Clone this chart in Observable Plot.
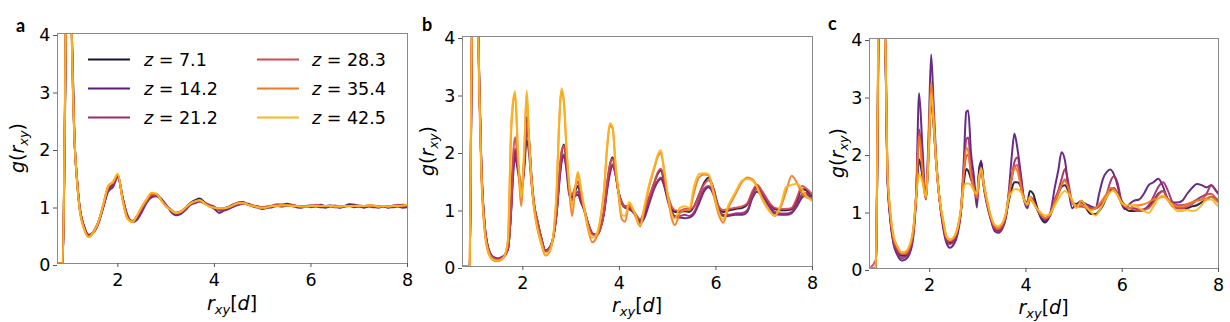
<!DOCTYPE html>
<html>
<head>
<meta charset="utf-8">
<script src="https://cdn.jsdelivr.net/npm/d3@7"></script>
<script src="https://cdn.jsdelivr.net/npm/@observablehq/plot@0.6"></script>
<style>
html,body{margin:0;padding:0;background:#fff;}
#chart{position:relative;width:1230px;height:322px;overflow:hidden;background:#fff;}
#chart svg{position:absolute;top:0;overflow:visible;}
</style>
</head>
<body>
<div id="chart"></div>
<script>
// ---- series labels, colours, ticks ----
const zLabels = ["7.1", "14.2", "21.2", "28.3", "35.4", "42.5"];
const zColors = ["#1c1237", "#5b1a7d", "#9c2a6c", "#d24a50", "#f47a22", "#fbb61a"];
const xTicks = [2, 4, 6, 8];
const yTicks = [0, 1, 2, 3, 4];
const panelLetters = ["a", "b", "c"];

// ---- panel a ----
const rA = [0.75,0.86,0.9,0.95,1.0,1.05,1.1,1.15,1.2,
 1.3,1.4,1.5,1.6,1.7,1.8,1.9,2.0,2.1,2.2,
 2.3,2.4,2.5,2.6,2.7,2.8,2.9,3.0,3.1,3.2,
 3.3,3.4,3.5,3.6,3.7,3.8,3.9,4.0,4.1,4.2,
 4.3,4.4,4.5,4.6,4.7,4.8,4.9,5.0,5.1,5.2,
 5.3,5.4,5.5,5.6,5.7,5.8,5.9,6.0,6.1,6.2,
 6.3,6.4,6.5,6.6,6.7,6.8,6.9,7.0,7.1,7.2,
 7.3,7.4,7.5,7.6,7.7,7.8,7.9,8.0];
const a71 = [0,0,2.3,5.9,6.8,3.9,2.2,1.5,1.03,
 0.63,0.49,0.56,0.73,1.0,1.3,1.38,1.53,1.13,0.8,
 0.74,0.8,0.96,1.1,1.21,1.2,1.12,1.0,0.93,0.88,
 0.9,0.97,1.05,1.1,1.13,1.06,1.0,0.97,0.95,0.96,
 0.99,1.03,1.06,1.07,1.02,1.0,0.99,0.97,0.98,1.0,
 1.02,1.02,1.04,1.02,1.0,0.99,1.0,1.01,1.0,1.02,
 1.0,1.01,0.99,0.98,1.0,1.03,1.02,1.0,0.99,1.0,
 1.0,0.99,1.0,0.98,1.0,1.01,1.02,1.01];
const a142 = [0,0,2.2,5.8,6.7,3.9,2.2,1.52,1.05,
 0.65,0.5,0.54,0.7,0.98,1.25,1.33,1.5,1.15,0.84,
 0.72,0.76,0.9,1.06,1.15,1.17,1.12,1.02,0.9,0.84,
 0.86,0.93,1.02,1.05,1.08,1.04,1.0,0.95,0.88,0.92,
 0.95,0.99,1.02,1.04,1.03,0.99,0.97,0.95,0.97,0.98,
 1.0,0.99,1.01,1.0,0.98,0.97,0.99,0.98,0.99,0.98,
 0.97,0.99,0.98,0.97,0.99,1.0,0.98,0.99,0.97,0.99,
 0.98,0.97,0.99,0.97,0.98,0.99,0.97,0.98];
const a212 = [0,0,2.3,5.9,6.8,3.8,2.2,1.5,1.04,
 0.64,0.49,0.55,0.71,1.0,1.28,1.36,1.52,1.14,0.82,
 0.73,0.78,0.93,1.08,1.17,1.18,1.12,1.01,0.92,0.86,
 0.88,0.94,1.03,1.07,1.09,1.06,1.02,0.99,0.92,0.94,
 0.97,1.01,1.04,1.05,1.04,1.01,0.99,0.98,0.99,1.0,
 1.01,1.02,1.01,1.02,1.0,0.99,1.0,0.99,1.0,1.01,
 0.99,1.0,0.99,0.98,1.0,1.01,1.0,0.99,0.99,1.01,
 1.0,0.99,1.0,0.98,1.01,1.0,0.99,1.0];
const a283 = [0,0,2.4,6.0,6.8,3.8,2.2,1.5,1.02,
 0.62,0.48,0.56,0.73,1.02,1.33,1.4,1.55,1.12,0.8,
 0.73,0.82,0.97,1.1,1.2,1.2,1.1,1.0,0.94,0.88,
 0.9,0.96,1.04,1.08,1.1,1.05,1.0,0.97,0.95,0.96,
 0.98,1.02,1.05,1.05,1.02,1.01,0.98,0.98,0.99,1.01,
 1.03,1.02,1.01,1.01,1.0,1.0,0.99,1.0,1.02,1.01,
 1.0,1.0,1.01,0.99,1.0,1.0,1.01,1.01,1.0,1.01,
 1.01,0.99,1.0,1.0,1.0,1.02,1.0,1.01];
const a354 = [0,0,2.5,6.1,6.8,3.8,2.2,1.48,1.0,
 0.6,0.46,0.55,0.73,1.03,1.35,1.42,1.55,1.1,0.78,
 0.73,0.84,0.99,1.12,1.22,1.21,1.1,0.99,0.93,0.88,
 0.9,0.97,1.05,1.08,1.1,1.04,0.99,0.97,0.96,0.96,
 0.98,1.02,1.05,1.06,1.02,1.0,0.98,0.97,0.98,1.0,
 1.01,1.02,1.02,1.01,1.0,0.99,0.99,1.0,1.01,1.0,
 1.0,1.0,0.99,0.99,1.0,1.0,1.0,1.0,1.0,1.01,
 1.0,0.99,1.0,0.99,1.0,1.0,1.01,1.02];
const a425 = [0,0,2.5,6.1,6.8,3.8,2.2,1.48,1.0,
 0.6,0.46,0.55,0.73,1.03,1.34,1.42,1.56,1.1,0.78,
 0.72,0.84,0.99,1.12,1.23,1.21,1.1,0.99,0.93,0.88,
 0.9,0.97,1.04,1.08,1.1,1.04,0.99,0.97,0.96,0.96,
 0.98,1.02,1.05,1.05,1.02,1.0,0.98,0.97,0.98,1.0,
 1.0,1.01,1.01,1.0,1.0,0.99,0.99,1.0,1.0,1.0,
 1.0,1.0,0.99,0.99,1.0,1.0,1.0,1.0,1.0,1.01,
 1.01,0.99,1.0,0.99,1.0,1.0,1.01,1.02];

// ---- panel b ----
const rB = [0.75,0.9,0.93,0.97,1.02,1.07,1.1,1.14,1.21,1.27,
 1.37,1.48,1.6,1.69,1.76,1.8,1.84,1.9,1.97,2.03,
 2.08,2.13,2.18,2.24,2.3,2.38,2.47,2.56,2.64,2.7,
 2.75,2.8,2.85,2.9,2.96,3.02,3.08,3.14,3.2,3.27,
 3.35,3.44,3.52,3.6,3.68,3.75,3.8,3.86,3.92,3.98,
 4.05,4.12,4.2,4.3,4.43,4.52,4.62,4.72,4.8,4.86,
 4.92,5.0,5.08,5.15,5.25,5.35,5.45,5.55,5.65,5.75,
 5.85,5.95,6.05,6.15,6.25,6.4,6.55,6.65,6.75,6.85,
 6.95,7.1,7.22,7.35,7.45,7.57,7.68,7.78,7.88,8.0];
const b71 = [0,0,2.6,5.9,7.0,4.4,3.1,1.75,0.7,0.35,
 0.17,0.13,0.17,0.3,1.05,1.8,2.0,1.75,1.35,1.8,
 2.6,2.2,1.55,1.05,0.8,0.5,0.27,0.33,0.55,0.95,
 1.5,1.95,2.12,1.85,1.35,1.2,1.3,1.4,1.2,1.0,
 0.75,0.57,0.55,0.65,0.95,1.45,1.75,1.9,1.65,1.3,
 1.12,1.05,1.05,0.95,0.8,0.95,1.2,1.45,1.62,1.68,
 1.5,1.22,1.0,0.95,0.95,0.96,0.95,1.05,1.25,1.45,
 1.55,1.35,1.05,0.95,0.97,1.0,1.02,1.08,1.28,1.4,
 1.3,1.1,1.0,0.98,0.98,1.0,1.15,1.35,1.32,1.2];
const b142 = [0,0,2.6,5.9,7.0,4.4,3.1,1.78,0.72,0.37,
 0.18,0.14,0.18,0.3,1.0,1.6,1.9,1.65,1.3,1.7,
 2.2,1.95,1.45,1.0,0.78,0.5,0.28,0.34,0.55,0.92,
 1.4,1.8,1.92,1.7,1.25,1.15,1.22,1.25,1.12,0.98,
 0.75,0.58,0.55,0.65,0.92,1.35,1.6,1.75,1.6,1.3,
 1.1,1.02,1.0,0.93,0.75,0.85,1.1,1.35,1.48,1.52,
 1.42,1.15,0.95,0.86,0.85,0.84,0.85,0.92,1.1,1.3,
 1.38,1.25,1.0,0.88,0.88,0.9,0.9,0.95,1.18,1.3,
 1.25,1.05,0.92,0.9,0.9,0.93,1.05,1.2,1.25,1.15];
const b212 = [0,0,2.6,5.9,7.0,4.4,3.1,1.77,0.71,0.36,
 0.17,0.13,0.17,0.3,1.02,1.7,2.05,1.7,1.35,1.8,
 2.4,2.1,1.5,1.02,0.79,0.5,0.27,0.33,0.55,0.93,
 1.45,1.85,1.95,1.75,1.3,1.18,1.25,1.3,1.15,0.99,
 0.75,0.57,0.55,0.65,0.93,1.4,1.65,1.78,1.6,1.3,
 1.1,1.03,1.0,0.94,0.78,0.9,1.15,1.38,1.5,1.55,
 1.45,1.2,0.97,0.88,0.88,0.9,0.88,0.95,1.15,1.35,
 1.4,1.28,1.0,0.9,0.9,0.92,0.93,0.98,1.2,1.35,
 1.28,1.08,0.95,0.92,0.92,0.95,1.1,1.25,1.28,1.18];
const b283 = [0,0,2.7,6.0,7.0,4.4,3.1,1.74,0.69,0.34,
 0.16,0.12,0.16,0.32,1.1,1.95,2.25,1.8,1.35,1.9,
 2.5,2.15,1.55,1.05,0.8,0.5,0.26,0.32,0.55,0.96,
 1.52,2.0,2.1,1.85,1.4,1.25,1.38,1.48,1.25,1.02,
 0.75,0.56,0.53,0.64,0.96,1.5,1.75,1.88,1.62,1.3,
 1.12,1.05,1.05,0.96,0.82,0.98,1.22,1.45,1.65,1.7,
 1.55,1.25,1.05,0.98,0.97,1.0,1.0,1.05,1.25,1.42,
 1.5,1.35,1.05,0.98,1.0,1.02,1.05,1.1,1.3,1.42,
 1.32,1.12,1.02,1.0,1.0,1.02,1.2,1.4,1.35,1.25];
const b354 = [0,0,3.2,6.3,7.0,4.2,2.9,1.6,0.6,0.28,
 0.12,0.09,0.15,0.45,2.4,2.85,3.0,1.9,1.05,2.0,
 3.0,2.15,1.45,0.95,0.66,0.4,0.19,0.27,0.6,1.3,
 2.45,3.05,2.85,2.1,1.35,0.88,1.3,1.62,1.35,1.0,
 0.65,0.42,0.5,0.78,1.3,2.1,2.45,2.4,1.75,1.25,
 0.82,0.78,1.08,0.95,0.7,1.0,1.4,1.7,1.92,1.98,
 1.7,1.22,0.85,0.72,0.92,0.98,0.98,1.3,1.55,1.6,
 1.58,1.25,0.92,0.76,1.0,1.25,1.48,1.55,1.52,1.4,
 1.2,0.98,0.88,1.05,1.3,1.58,1.45,1.28,1.2,1.18];
const b425 = [0,0,3.0,6.2,7.0,4.3,3.0,1.67,0.63,0.3,
 0.13,0.1,0.16,0.45,2.5,2.9,3.05,2.0,1.2,2.1,
 3.06,2.2,1.5,0.97,0.68,0.42,0.2,0.28,0.62,1.32,
 2.48,3.1,2.9,2.14,1.44,1.05,1.35,1.65,1.38,1.03,
 0.68,0.5,0.55,0.8,1.32,2.14,2.49,2.43,1.79,1.32,
 0.9,0.88,1.12,0.97,0.72,1.06,1.44,1.73,1.96,2.02,
 1.73,1.26,0.92,0.83,1.02,1.05,1.02,1.41,1.61,1.62,
 1.6,1.29,0.97,0.82,1.05,1.29,1.5,1.52,1.5,1.38,
 1.18,0.97,0.89,1.09,1.38,1.42,1.44,1.35,1.22,1.14];

// ---- panel c ----
const rC = [0.75,0.88,0.92,0.95,1.0,1.05,1.09,1.12,1.18,1.25,
 1.32,1.42,1.5,1.58,1.66,1.72,1.78,1.85,1.92,1.98,
 2.03,2.08,2.13,2.2,2.29,2.35,2.42,2.5,2.58,2.65,
 2.71,2.76,2.8,2.86,2.92,2.98,3.03,3.07,3.12,3.18,
 3.27,3.35,3.42,3.5,3.58,3.65,3.71,3.76,3.82,3.9,
 3.96,4.03,4.08,4.15,4.22,4.3,4.4,4.5,4.6,4.67,
 4.74,4.81,4.88,4.96,5.05,5.15,5.25,5.35,5.45,5.52,
 5.6,5.68,5.75,5.82,5.9,5.98,6.06,6.15,6.25,6.35,
 6.45,6.55,6.65,6.75,6.85,6.95,7.05,7.15,7.25,7.35,
 7.45,7.55,7.65,7.75,7.85,7.95,8.0];
const c71 = [0,0,2.5,5.5,7,5,3.4,1.7,0.92,0.48,
 0.33,0.22,0.22,0.35,0.65,1.2,1.9,1.6,1.22,2.0,
 2.95,2.5,1.9,1.24,0.72,0.5,0.45,0.5,0.68,1.0,
 1.5,1.73,1.7,1.55,1.4,1.25,1.75,1.85,1.5,1.2,
 0.88,0.7,0.66,0.72,0.9,1.2,1.4,1.5,1.5,1.4,
 1.2,1.15,1.35,1.3,1.1,0.9,0.8,0.92,1.15,1.3,
 1.42,1.45,1.35,1.15,1.12,1.18,1.05,0.95,0.95,1.0,
 1.1,1.25,1.35,1.4,1.3,1.15,1.05,1.0,1.0,1.0,
 1.02,1.08,1.18,1.3,1.35,1.2,1.08,1.05,1.05,1.05,
 1.08,1.1,1.15,1.2,1.25,1.2,1.15];
const c142 = [0,0,2.5,5.5,7,5,3.3,1.65,0.85,0.42,
 0.25,0.14,0.16,0.25,0.55,1.3,3.05,2.1,1.2,2.4,
 3.72,2.9,2.0,1.24,0.66,0.44,0.36,0.42,0.6,1.0,
 1.9,2.72,2.75,2.0,1.6,1.06,1.7,1.88,1.45,1.15,
 0.85,0.65,0.62,0.68,0.88,1.4,2.0,2.35,2.1,1.6,
 1.2,1.05,1.2,1.2,1.05,0.92,0.83,0.95,1.41,1.7,
 2.02,1.88,1.41,1.05,1.12,1.15,1.12,1.08,1.05,1.3,
 1.56,1.68,1.72,1.65,1.45,1.15,1.03,1.12,1.18,1.2,
 1.3,1.45,1.5,1.56,1.42,1.2,1.15,1.15,1.18,1.3,
 1.4,1.47,1.45,1.41,1.45,1.35,1.3];
const c212 = [0,0,2.5,5.5,7,5,3.4,1.7,0.9,0.45,
 0.3,0.18,0.2,0.3,0.6,1.3,2.42,1.8,1.22,2.1,
 3.1,2.6,1.9,1.24,0.7,0.48,0.42,0.47,0.65,1.0,
 1.7,2.25,2.28,1.75,1.45,1.2,1.6,1.75,1.45,1.18,
 0.87,0.68,0.64,0.7,0.88,1.3,1.6,1.85,1.93,1.55,
 1.2,1.1,1.25,1.2,1.05,0.93,0.85,0.92,1.2,1.35,
 1.55,1.73,1.5,1.15,1.08,1.08,1.06,1.05,1.05,1.08,
 1.15,1.3,1.5,1.6,1.5,1.2,1.1,1.05,1.05,1.02,
 1.03,1.1,1.25,1.42,1.5,1.35,1.15,1.1,1.1,1.12,
 1.15,1.2,1.25,1.3,1.45,1.35,1.3];
const c283 = [0,0.15,2.6,5.6,7,5,3.4,1.75,0.95,0.5,
 0.35,0.25,0.25,0.35,0.65,1.3,2.35,1.75,1.22,2.15,
 3.15,2.6,1.9,1.24,0.75,0.52,0.47,0.52,0.7,1.0,
 1.65,1.95,1.98,1.65,1.4,1.22,1.55,1.7,1.45,1.2,
 0.88,0.72,0.68,0.74,0.92,1.3,1.6,1.75,1.8,1.45,
 1.2,1.1,1.2,1.15,1.05,0.95,0.88,0.95,1.2,1.32,
 1.45,1.55,1.4,1.15,1.1,1.1,1.08,1.05,1.05,1.1,
 1.2,1.3,1.38,1.4,1.3,1.15,1.08,1.05,1.02,1.0,
 1.02,1.05,1.15,1.28,1.35,1.2,1.1,1.05,1.05,1.08,
 1.12,1.18,1.2,1.28,1.3,1.22,1.2];
const c354 = [0,0,2.7,5.7,7,5,3.5,1.8,0.98,0.55,
 0.4,0.28,0.28,0.38,0.68,1.3,2.3,1.7,1.22,2.2,
 3.25,2.7,1.9,1.24,0.78,0.55,0.5,0.53,0.7,1.05,
 1.7,2.1,2.05,1.6,1.38,1.25,1.6,1.72,1.45,1.2,
 0.9,0.74,0.7,0.76,0.95,1.3,1.6,1.76,1.7,1.4,
 1.2,1.1,1.2,1.15,1.05,0.95,0.88,0.93,1.15,1.3,
 1.45,1.52,1.4,1.15,1.1,1.1,1.05,1.02,1.05,1.12,
 1.2,1.3,1.4,1.38,1.28,1.15,1.08,1.05,1.1,1.1,
 1.12,1.15,1.2,1.22,1.25,1.2,1.12,1.08,1.08,1.12,
 1.15,1.18,1.2,1.22,1.25,1.18,1.15];
const c425 = [0,0,3.0,5.8,7,5,3.5,1.8,1.0,0.56,
 0.4,0.28,0.3,0.4,0.7,1.25,1.65,1.5,1.25,2.0,
 3.05,2.55,1.9,1.26,0.8,0.56,0.5,0.55,0.7,1.05,
 1.42,1.48,1.48,1.45,1.35,1.3,1.6,1.75,1.5,1.25,
 0.92,0.76,0.74,0.78,0.95,1.25,1.33,1.38,1.38,1.32,
 1.2,1.12,1.25,1.15,1.05,0.98,0.92,0.95,1.1,1.2,
 1.3,1.35,1.3,1.2,1.05,1.18,1.08,0.98,0.92,1.0,
 1.12,1.25,1.33,1.35,1.28,1.15,1.1,1.1,1.1,1.05,
 1.0,0.97,1.08,1.22,1.27,1.18,1.08,1.0,1.0,1.02,
 1.0,1.02,1.1,1.2,1.2,1.12,1.08];

// ---- build ----
function toRows(r, series) {
  const out = [];
  series.forEach((s, i) => {
    const n = Math.min(r.length, s.length);
    for (let j = 0; j < n; j++) out.push({r: r[j], g: s[j], z: zLabels[i]});
  });
  return out;
}

const FONT = "DejaVu Sans, sans-serif";
const chart = document.getElementById("chart");

const panels = [
  {rows: toRows(rA, [a71, a142, a212, a283, a354, a425]), left: 0,
   m: {l: 57, r: 3, t: 33, b: 59}, lx: 16, ly: 32, xly: 310, legend: true},
  {rows: toRows(rB, [b71, b142, b212, b283, b354, b425]), left: 410,
   m: {l: 52, r: 8, t: 36, b: 56}, lx: 12, ly: 31, xly: 312, legend: false},
  {rows: toRows(rC, [c71, c142, c212, c283, c354, c425]), left: 820,
   m: {l: 49, r: 12, t: 38, b: 54}, lx: 8, ly: 30, xly: 314, legend: false}
];

const W = 410, H = 322;
const fmt = d => String(d);

panels.forEach((p, k) => {
  const svgNode = Plot.plot({
    width: W, height: H,
    marginLeft: p.m.l, marginRight: p.m.r, marginTop: p.m.t, marginBottom: p.m.b,
    style: {fontFamily: FONT, fontSize: "17.5px", color: "#000", background: "transparent", overflow: "visible"},
    x: {domain: [0.75, 8]},
    y: {domain: [0, 4]},
    color: {type: "ordinal", domain: zLabels, range: zColors},
    marks: [
      Plot.line(p.rows, {x: "r", y: "g", z: "z", stroke: "z", strokeWidth: 2, strokeOpacity: 0.92,
        curve: "monotone-x", clip: true}),
      Plot.frame({stroke: "#8a8a8a", strokeWidth: 1}),
      Plot.axisX({ticks: xTicks, tickFormat: fmt, tickSize: 4, tickPadding: 6, label: null, stroke: "#555", fill: "#000"}),
      Plot.axisY({ticks: yTicks, tickFormat: fmt, tickSize: 4, tickPadding: 3, label: null, stroke: "#555", fill: "#000", dy: 2})
    ]
  });
  svgNode.style.left = p.left + "px";
  chart.appendChild(svgNode);
  const svg = d3.select(svgNode);

  const fx0 = p.m.l, fx1 = W - p.m.r, fy0 = p.m.t, fy1 = H - p.m.b;
  const cx = (fx0 + fx1) / 2, cy = (fy0 + fy1) / 2;

  // panel letter
  svg.append("text").attr("x", p.lx).attr("y", p.ly)
    .attr("text-anchor", "start")
    .style("font-family", "Lato, 'Liberation Sans', sans-serif")
    .style("font-weight", "700").style("font-size", "18px").style("fill", "#000")
    .text(panelLetters[k]);

  // y label g(r_xy)
  const yl = svg.append("text")
    .attr("transform", `translate(24,${cy}) rotate(-90)`)
    .attr("text-anchor", "middle")
    .style("font-family", FONT).style("font-size", "19px").style("fill", "#000");
  yl.append("tspan").style("font-style", "italic").text("g");
  yl.append("tspan").text("(");
  yl.append("tspan").style("font-style", "italic").text("r");
  yl.append("tspan").style("font-style", "italic").style("font-size", "13px").attr("dy", 4).text("xy");
  yl.append("tspan").attr("dy", -4).text(")");

  // x label r_xy[d]
  const xl = svg.append("text")
    .attr("x", cx).attr("y", p.xly)
    .attr("text-anchor", "middle")
    .style("font-family", FONT).style("font-size", "19px").style("fill", "#000");
  xl.append("tspan").style("font-style", "italic").text("r");
  xl.append("tspan").style("font-style", "italic").style("font-size", "13px").attr("dy", 4).text("xy");
  xl.append("tspan").attr("dy", -4).text("[");
  xl.append("tspan").style("font-style", "italic").text("d");
  xl.append("tspan").text("]");

  // legend (panel a)
  if (p.legend) {
    zLabels.forEach((lab, i) => {
      const col = i < 3 ? 0 : 1, row = i % 3;
      const y = 59.5 + row * 29;
      const x0 = col ? 257 : 88;
      svg.append("line").attr("x1", x0).attr("x2", x0 + 42).attr("y1", y).attr("y2", y)
        .attr("stroke", zColors[i]).attr("stroke-width", 2);
      const t = svg.append("text").attr("x", col ? 312 : 144).attr("y", y + 6.8)
        .attr("text-anchor", "start")
        .style("font-family", FONT).style("font-size", "17.5px").style("fill", "#000");
      t.append("tspan").style("font-style", "italic").text("z");
      t.append("tspan").text(" = " + lab);
    });
  }
});
</script>
</body>
</html>
